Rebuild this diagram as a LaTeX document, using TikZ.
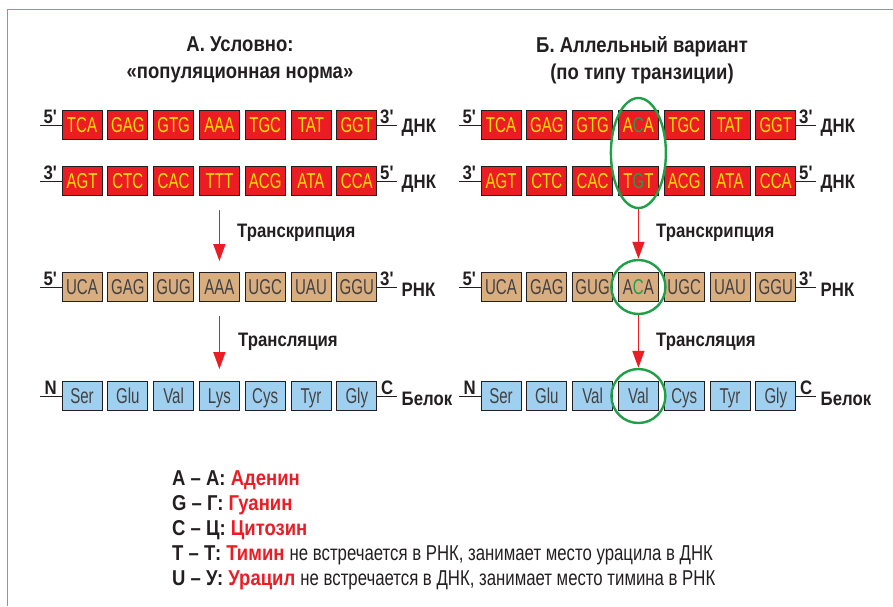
\documentclass[tikz,border=0pt]{standalone}
\usepackage{fontspec}
\setmainfont[FakeStretch=0.86]{Liberation Sans}
\newfontfamily\codonfont[FakeStretch=0.7]{Liberation Sans}
\newfontfamily\plainfont[FakeStretch=0.78]{Liberation Sans}
\usetikzlibrary{positioning, calc, arrows.meta, shapes.geometric}

\definecolor{dnared}{HTML}{EC1C24}
\definecolor{codonyellow}{HTML}{FFE000}
\definecolor{rnatan}{HTML}{D8AD80}
\definecolor{protblue}{HTML}{9FD0F0}
\definecolor{mutgreen}{HTML}{1FA048}
\definecolor{framepurple}{HTML}{B47CC0}
\definecolor{darktext}{HTML}{231F20}

\newcommand{\mut}[1]{\textcolor{mutgreen}{#1}}
\newcommand{\primemark}{\textquotesingle}

\begin{document}
\begin{tikzpicture}[x=1pt, y=-1pt, node distance=5pt,
	codon/.style={draw=darktext, line width=0.8pt, minimum width=40pt, minimum height=29pt, inner sep=0pt, text height=15.5pt, text depth=0pt, font=\codonfont\fontsize{21.5}{21.5}\selectfont},
	dna/.style={codon, fill=dnared, text=codonyellow},
	rna/.style={codon, fill=rnatan, text=darktext!85},
	prot/.style={codon, fill=protblue, text=darktext!85},
	strand/.style={line width=1pt, darktext},
	endlbl/.style={font=\bfseries\fontsize{19.5}{19.5}\selectfont, text=darktext, inner sep=1pt},
	mol/.style={font=\bfseries\fontsize{19.5}{19.5}\selectfont, text=darktext, anchor=west, inner sep=0pt, xshift=4pt, yshift=-3pt},
	steplbl/.style={font=\bfseries\fontsize{19.5}{19.5}\selectfont, text=darktext, anchor=west, inner sep=0pt},
	conv/.style={-{Triangle[width=12pt,length=17pt]}, dnared, line width=1.6pt},
	hilite/.style={draw=mutgreen, line width=2.4pt, inner sep=0pt},
]
\useasboundingbox (0,0) rectangle (893,606);

% frame
\draw[framepurple, line width=1pt] (7,606) -- (7,9) -- (893,9);

% titles
\node[font=\bfseries\fontsize{21.5}{27}\selectfont, text=darktext, align=center] (a-title) at (240,60) {А. Условно:\\«популяционная норма»};
\node[font=\bfseries\fontsize{21.5}{27}\selectfont, text=darktext, align=center] (b-title) at (642,60) {Б. Аллельный вариант\\(по типу транзиции)};

% --- A: norm ---
\node[dna] (a-top1) at (82,125) {TCA};
\node[dna, right=of a-top1] (a-top2) {GAG};
\node[dna, right=of a-top2] (a-top3) {GTG};
\node[dna, right=of a-top3] (a-top4) {AAA};
\node[dna, right=of a-top4] (a-top5) {TGC};
\node[dna, right=of a-top5] (a-top6) {TAT};
\node[dna, right=of a-top6] (a-top7) {GGT};

\node[dna] (a-bot1) at (82,181) {AGT};
\node[dna, right=of a-bot1] (a-bot2) {CTC};
\node[dna, right=of a-bot2] (a-bot3) {CAC};
\node[dna, right=of a-bot3] (a-bot4) {TTT};
\node[dna, right=of a-bot4] (a-bot5) {ACG};
\node[dna, right=of a-bot5] (a-bot6) {ATA};
\node[dna, right=of a-bot6] (a-bot7) {CCA};

\node[rna] (a-rna1) at (82,287) {UCA};
\node[rna, right=of a-rna1] (a-rna2) {GAG};
\node[rna, right=of a-rna2] (a-rna3) {GUG};
\node[rna, right=of a-rna3] (a-rna4) {AAA};
\node[rna, right=of a-rna4] (a-rna5) {UGC};
\node[rna, right=of a-rna5] (a-rna6) {UAU};
\node[rna, right=of a-rna6] (a-rna7) {GGU};

\node[prot] (a-prot1) at (82,396) {Ser};
\node[prot, right=of a-prot1] (a-prot2) {Glu};
\node[prot, right=of a-prot2] (a-prot3) {Val};
\node[prot, right=of a-prot3] (a-prot4) {Lys};
\node[prot, right=of a-prot4] (a-prot5) {Cys};
\node[prot, right=of a-prot5] (a-prot6) {Tyr};
\node[prot, right=of a-prot6] (a-prot7) {Gly};

\draw[strand] (a-top1.west) -- ++(-22,0) node[midway, above, endlbl] (a-top-in) {5\primemark};
\draw[strand] (a-top7.east) -- ++(20,0) node[midway, above, endlbl] (a-top-out) {3\primemark} node[mol] (a-top-mol) {ДНК};
\draw[strand] (a-bot1.west) -- ++(-22,0) node[midway, above, endlbl] (a-bot-in) {3\primemark};
\draw[strand] (a-bot7.east) -- ++(20,0) node[midway, above, endlbl] (a-bot-out) {5\primemark} node[mol] (a-bot-mol) {ДНК};
\draw[strand] (a-rna1.west) -- ++(-22,0) node[midway, above, endlbl] (a-rna-in) {5\primemark};
\draw[strand] (a-rna7.east) -- ++(20,0) node[midway, above, endlbl] (a-rna-out) {3\primemark} node[mol] (a-rna-mol) {РНК};
\draw[strand] (a-prot1.west) -- ++(-22,0) node[midway, above, endlbl] (a-prot-in) {N};
\draw[strand] (a-prot7.east) -- ++(20,0) node[midway, above, endlbl] (a-prot-out) {C} node[mol] (a-prot-mol) {Белок};

\draw[conv] ([yshift=-14pt]a-bot4.south) -- ([yshift=11pt]a-rna4.north);
\draw[conv] ([yshift=-14pt]a-rna4.south) -- ([yshift=12pt]a-prot4.north);
\node[steplbl] (a-transcr) at (237,233) {Транскрипция};
\node[steplbl] (a-transl) at (238,342) {Трансляция};

% --- B: transition variant ---
\node[dna] (b-top1) at (501,125) {TCA};
\node[dna, right=of b-top1] (b-top2) {GAG};
\node[dna, right=of b-top2] (b-top3) {GTG};
\node[dna, right=of b-top3] (b-top4) {A\mut{C}A};
\node[dna, right=of b-top4] (b-top5) {TGC};
\node[dna, right=of b-top5] (b-top6) {TAT};
\node[dna, right=of b-top6] (b-top7) {GGT};

\node[dna] (b-bot1) at (501,181) {AGT};
\node[dna, right=of b-bot1] (b-bot2) {CTC};
\node[dna, right=of b-bot2] (b-bot3) {CAC};
\node[dna, right=of b-bot3] (b-bot4) {T\mut{G}T};
\node[dna, right=of b-bot4] (b-bot5) {ACG};
\node[dna, right=of b-bot5] (b-bot6) {ATA};
\node[dna, right=of b-bot6] (b-bot7) {CCA};

\node[rna] (b-rna1) at (501,287) {UCA};
\node[rna, right=of b-rna1] (b-rna2) {GAG};
\node[rna, right=of b-rna2] (b-rna3) {GUG};
\node[rna, right=of b-rna3] (b-rna4) {A\mut{C}A};
\node[rna, right=of b-rna4] (b-rna5) {UGC};
\node[rna, right=of b-rna5] (b-rna6) {UAU};
\node[rna, right=of b-rna6] (b-rna7) {GGU};

\node[prot] (b-prot1) at (501,396) {Ser};
\node[prot, right=of b-prot1] (b-prot2) {Glu};
\node[prot, right=of b-prot2] (b-prot3) {Val};
\node[prot, right=of b-prot3] (b-prot4) {Val};
\node[prot, right=of b-prot4] (b-prot5) {Cys};
\node[prot, right=of b-prot5] (b-prot6) {Tyr};
\node[prot, right=of b-prot6] (b-prot7) {Gly};

\draw[strand] (b-top1.west) -- ++(-22,0) node[midway, above, endlbl] (b-top-in) {5\primemark};
\draw[strand] (b-top7.east) -- ++(20,0) node[midway, above, endlbl] (b-top-out) {3\primemark} node[mol] (b-top-mol) {ДНК};
\draw[strand] (b-bot1.west) -- ++(-22,0) node[midway, above, endlbl] (b-bot-in) {3\primemark};
\draw[strand] (b-bot7.east) -- ++(20,0) node[midway, above, endlbl] (b-bot-out) {5\primemark} node[mol] (b-bot-mol) {ДНК};
\draw[strand] (b-rna1.west) -- ++(-22,0) node[midway, above, endlbl] (b-rna-in) {5\primemark};
\draw[strand] (b-rna7.east) -- ++(20,0) node[midway, above, endlbl] (b-rna-out) {3\primemark} node[mol] (b-rna-mol) {РНК};
\draw[strand] (b-prot1.west) -- ++(-22,0) node[midway, above, endlbl] (b-prot-in) {N};
\draw[strand] (b-prot7.east) -- ++(20,0) node[midway, above, endlbl] (b-prot-out) {C} node[mol] (b-prot-mol) {Белок};

\node[hilite, ellipse, minimum width=55pt, minimum height=110pt] (b-mut-dna) at ($(b-top4)!0.5!(b-bot4)$) {};
\node[hilite, circle, minimum size=54pt] (b-mut-rna) at (b-rna4) {};
\node[hilite, circle, minimum size=54pt] (b-mut-prot) at (b-prot4) {};

\draw[conv] (b-mut-dna) -- (b-mut-rna);
\draw[conv] (b-mut-rna) -- (b-mut-prot);
\node[steplbl] (b-transcr) at (656,233) {Транскрипция};
\node[steplbl] (b-transl) at (656,342) {Трансляция};

% legend
\node[anchor=north west, align=left, inner sep=0pt, text=darktext, font=\bfseries\fontsize{21.5}{25.2}\selectfont] (legend) at (172,470) {%
A – А: \textcolor{dnared}{Аденин}\\
G – Г: \textcolor{dnared}{Гуанин}\\
C – Ц: \textcolor{dnared}{Цитозин}\\
T – Т: \textcolor{dnared}{Тимин} {\plainfont\mdseries не встречается в РНК, занимает место урацила в ДНК}\\
U – У: \textcolor{dnared}{Урацил} {\plainfont\mdseries не встречается в ДНК, занимает место тимина в РНК}};

\end{tikzpicture}
\end{document}
